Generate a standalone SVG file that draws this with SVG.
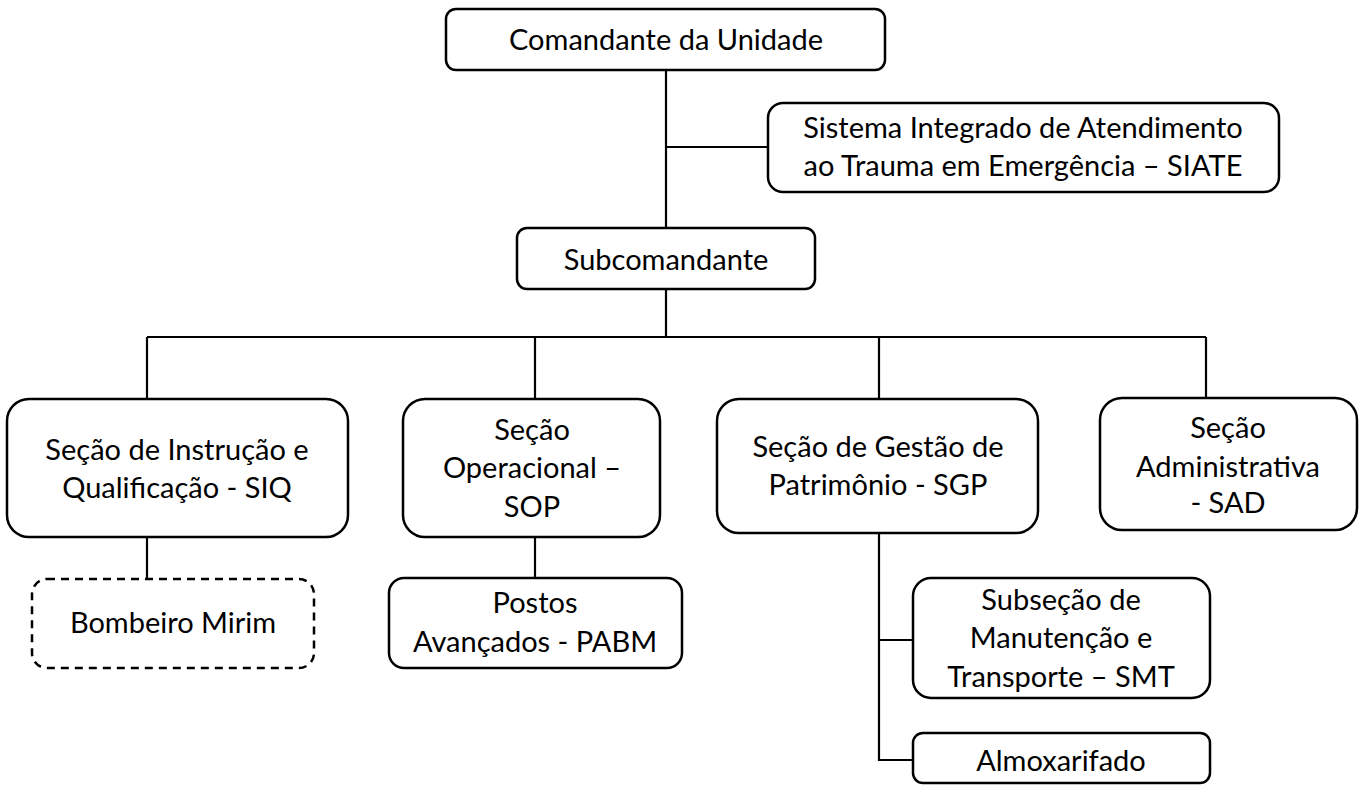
<svg xmlns="http://www.w3.org/2000/svg" width="1363" height="786" viewBox="0 0 1363 786">
<style>
.box{fill:#fff;stroke:#000;stroke-width:2.5}
.dash{fill:#fff;stroke:#000;stroke-width:2.5;stroke-dasharray:8 6}
.ln{fill:none;stroke:#000;stroke-width:2.2}
text{font-family:Lato,"Liberation Sans",sans-serif;font-size:29px;fill:#000;text-anchor:middle}
</style>
<rect width="1363" height="786" fill="#fff"/>
<g id="connectors">
<path class="ln" d="M666 70V228"/>
<path class="ln" d="M666 147H768"/>
<path class="ln" d="M666 289V337"/>
<path class="ln" d="M147 337H1206"/>
<path class="ln" d="M147 337V399M535 337V399M879 337V399M1206 337V398"/>
<path class="ln" d="M147 537V579"/>
<path class="ln" d="M535 537V578"/>
<path class="ln" d="M879 533V760H913M879 640H913"/>
</g>
<g id="n-comandante">
<rect class="box" x="446" y="9" width="439" height="61" rx="10"/>
<text x="666" y="50">Comandante da Unidade</text>
</g>
<g id="n-siate">
<rect class="box" x="768" y="103" width="511" height="89" rx="15"/>
<text x="1023" y="138">Sistema Integrado de Atendimento</text>
<text x="1023" y="176">ao Trauma em Emergência – SIATE</text>
</g>
<g id="n-subcomandante">
<rect class="box" x="517" y="228" width="298" height="61" rx="10"/>
<text x="666" y="270">Subcomandante</text>
</g>
<g id="n-siq">
<rect class="box" x="7" y="399" width="341" height="138" rx="22"/>
<text x="177" y="460">Seção de Instrução e</text>
<text x="177" y="498">Qualificação - SIQ</text>
</g>
<g id="n-sop">
<rect class="box" x="403" y="399" width="257" height="138" rx="22"/>
<text x="532" y="440">Seção</text>
<text x="532" y="478">Operacional –</text>
<text x="532" y="517">SOP</text>
</g>
<g id="n-sgp">
<rect class="box" x="717" y="399" width="321" height="134" rx="22"/>
<text x="878" y="457">Seção de Gestão de</text>
<text x="878" y="495">Patrimônio - SGP</text>
</g>
<g id="n-sad">
<rect class="box" x="1100" y="398" width="257" height="132" rx="22"/>
<text x="1228" y="438">Seção</text>
<text x="1228" y="477">Administrativa</text>
<text x="1228" y="513">- SAD</text>
</g>
<g id="n-bombeiro">
<rect class="dash" x="32" y="579" width="282" height="89" rx="15"/>
<text x="173" y="633">Bombeiro Mirim</text>
</g>
<g id="n-pabm">
<rect class="box" x="389" y="578" width="293" height="90" rx="15"/>
<text x="535" y="613">Postos</text>
<text x="535" y="652">Avançados - PABM</text>
</g>
<g id="n-smt">
<rect class="box" x="913" y="578" width="297" height="120" rx="18"/>
<text x="1061" y="610">Subseção de</text>
<text x="1061" y="648">Manutenção e</text>
<text x="1061" y="687">Transporte – SMT</text>
</g>
<g id="n-almox">
<rect class="box" x="913" y="733" width="297" height="50" rx="10"/>
<text x="1061" y="771">Almoxarifado</text>
</g>
</svg>
